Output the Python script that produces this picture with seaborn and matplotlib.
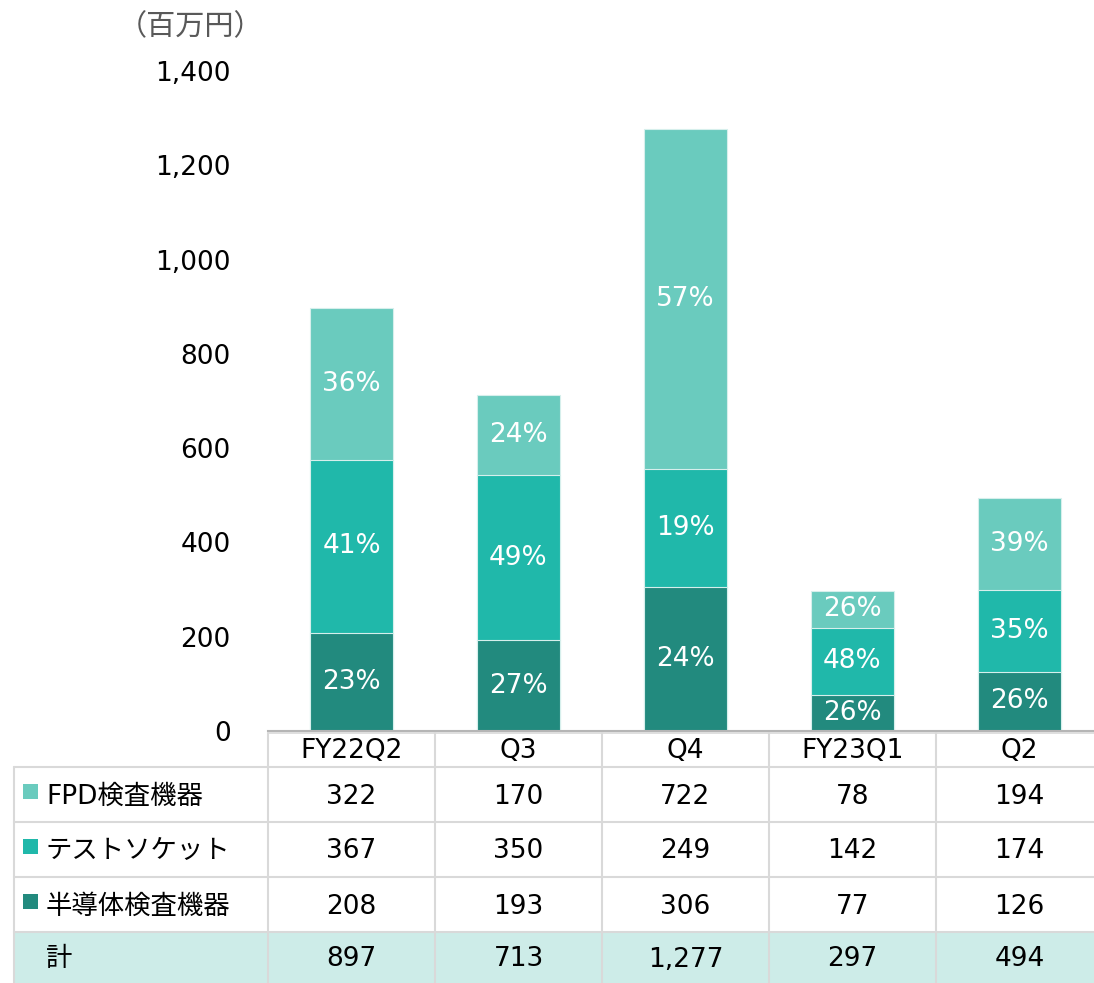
import matplotlib
matplotlib.use("Agg")
import matplotlib.pyplot as plt
import pandas as pd
import seaborn as sns

sns.set_style("white")
plt.rcParams['font.family'] = ['DejaVu Sans', 'Noto Sans CJK JP']
plt.rcParams['text.color'] = 'black'
plt.rcParams['ytick.color'] = 'black'

# data (百万円)
quarters = ['FY22Q2', 'Q3', 'Q4', 'FY23Q1', 'Q2']
fpd = [322, 170, 722, 78, 194]
socket = [367, 350, 249, 142, 174]
semi = [208, 193, 306, 77, 126]
seg_names = ['FPD検査機器', 'テストソケット', '半導体検査機器']
total_name = '計'

c_fpd = '#6ACBBE'
c_socket = '#20B8AA'
c_semi = '#228A7E'
colors = [c_fpd, c_socket, c_semi]

df = pd.DataFrame({'quarter': quarters, 'fpd': fpd, 'socket': socket, 'semi': semi})
df['total'] = df['fpd'] + df['socket'] + df['semi']
df['lower2'] = df['socket'] + df['semi']

W, H = 1094, 983
fig = plt.figure(figsize=(W / 100, H / 100), dpi=100)

# layout in pixels
col_left = 268
col_w = 167
base_y = 731
top_y = 71
rows = [731, 767, 822, 877, 932, 983]

ax = fig.add_axes([col_left / W, 1 - base_y / H, (W - col_left) / W, (base_y - top_y) / H])

# stacked bars: draw cumulative totals back to front
for col, c in [('total', c_fpd), ('lower2', c_socket), ('semi', c_semi)]:
    sns.barplot(data=df, x='quarter', y=col, color=c, width=0.5, ax=ax,
                edgecolor='#d6efec', linewidth=0.8, saturation=1)

for i, row in df.iterrows():
    parts = [(row['semi'], 0), (row['socket'], row['semi']), (row['fpd'], row['lower2'])]
    for val, bottom in parts:
        ax.text(i, bottom + val / 2, f"{val / row['total'] * 100:.0f}%",
                ha='center', va='center', color='white', fontsize=19)

ax.set_xlim(-0.5, -0.5 + (W - col_left) / col_w)
ax.set_ylim(0, 1400)
ax.set_yticks(range(0, 1401, 200))
ax.set_yticklabels([f"{v:,}" for v in range(0, 1401, 200)], fontsize=19)
ax.tick_params(axis='y', length=0, pad=27, labelcolor='black')
ax.set_xticks([])
ax.set_xlabel('')
ax.set_ylabel('')
for s in ['top', 'right', 'left']:
    ax.spines[s].set_visible(False)
ax.spines['bottom'].set_color('#b5b5b5')
ax.spines['bottom'].set_linewidth(1.5)
ax.patch.set_visible(False)

fig.text(118 / W, 1 - 27 / H, '（百万円）', fontsize=21, color='#595959', va='center', ha='left',
         family=['Noto Sans CJK JP'])

# data table below the chart
tab = fig.add_axes([0, 0, 1, 1])
tab.set_xlim(0, W)
tab.set_ylim(H, 0)
tab.axis('off')
tab.patch.set_visible(False)

line_c = '#d9d9d9'
tab.fill_between([14, W], rows[4], rows[5], color='#CDECE8', lw=0)
for y in rows[1:5]:
    tab.plot([14, W], [y, y], color=line_c, lw=1.5)
tab.plot([col_left, W], [rows[0] + 2, rows[0] + 2], color=line_c, lw=1.2)
tab.plot([14, 14], [rows[1], rows[5]], color=line_c, lw=1.5)
for j in range(len(quarters)):
    x = col_left + j * col_w
    tab.plot([x, x], [rows[0] + 2, rows[5]], color=line_c, lw=1.5)

fs = 19
for j, q in enumerate(quarters):
    cx = col_left + (j + 0.5) * col_w
    tab.text(cx, (rows[0] + rows[1]) / 2 + 2, q, ha='center', va='center', fontsize=fs)
    for r, vals in enumerate([fpd, socket, semi, list(df['total'])]):
        tab.text(cx, (rows[r + 1] + rows[r + 2]) / 2 + 2, f"{vals[j]:,}",
                 ha='center', va='center', fontsize=fs)

for r, (name, c) in enumerate(zip(seg_names, colors)):
    cy = (rows[r + 1] + rows[r + 2]) / 2
    tab.add_patch(plt.Rectangle((23, cy - 11), 15, 15, color=c, lw=0))
    tab.text(46, cy + 2, name, ha='left', va='center', fontsize=fs)
tab.text(46, (rows[4] + rows[5]) / 2 + 2, total_name, ha='left', va='center', fontsize=fs)

fig.savefig('out.png', dpi=100)
